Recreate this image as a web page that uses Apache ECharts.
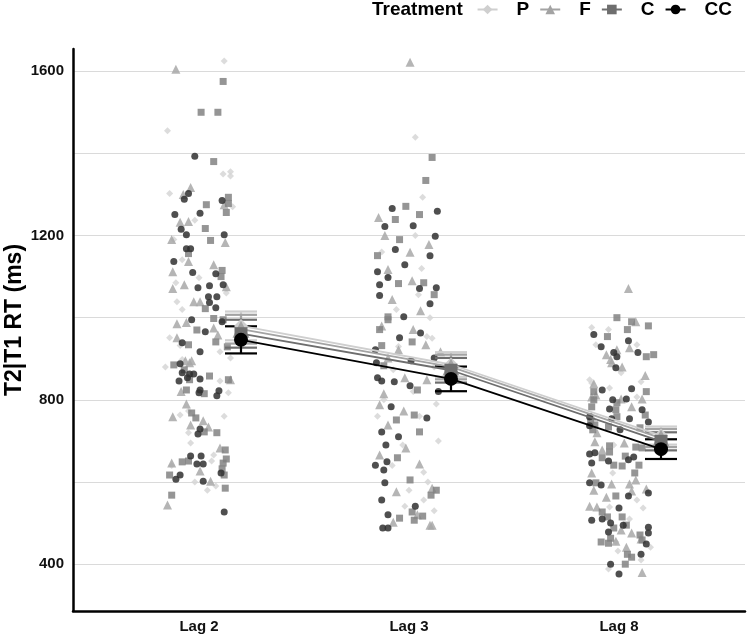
<!DOCTYPE html>
<html lang="en">
  <head>
    <meta charset="UTF-8" />
    <title>T2|T1 RT</title>
    <script src="https://cdn.jsdelivr.net/npm/echarts@6.0.0/dist/echarts.min.js"></script>
  </head>
  <body style="margin:0">
    <div id="chart" style="width: 747px; height: 636px"></div>

    <script type="text/javascript">
      const lags = ["Lag 2", "Lag 3", "Lag 8"];
      const treatments = ["P", "F", "C", "CC"];
      const yTicks = [400, 800, 1200, 1600];

      // raw trials: [jitter, RT ms]
      const p2 = [[0.12,1625],[-0.15,1455],[0.115,1350],[0.15,1355],[0.15,1345],[-0.14,1302],[-0.02,1237],[-0.08,1141],[0.0,1097],[-0.11,1085],[-0.105,1039],[-0.08,1020],[-0.14,951],[-0.09,932],[0.1,917],[0.15,902],[-0.08,898],[0.1,846],[0.14,817],[-0.05,773],[-0.09,763],[-0.05,720],[-0.04,695],[0.07,666],[0.06,651],[0.04,580],[0.08,590],[0.16,1270],[-0.12,1190],[0.13,1060],[-0.16,880],[0.12,760],[-0.13,640],[-0.02,600]];
      const f2 = [[-0.11,1605],[-0.04,1317],[-0.075,1300],[0.12,1275],[-0.05,1234],[-0.09,1232],[-0.13,1190],[0.125,1183],[-0.05,1137],[0.07,1129],[-0.125,1112],[0.13,1075],[-0.07,1080],[-0.125,1071],[-0.025,1039],[0.005,1039],[-0.105,985],[-0.06,988],[0.07,975],[0.09,958],[-0.105,951],[-0.065,895],[-0.035,895],[-0.045,890],[0.15,849],[-0.085,820],[-0.06,790],[-0.125,759],[-0.04,739],[0.02,749],[0.045,734],[0.1,683],[-0.13,646],[0.005,627],[0.055,602],[-0.15,544]];
      const c2 = [[0.115,1575],[0.01,1500],[0.09,1500],[0.07,1380],[0.14,1293],[0.14,1278],[0.035,1275],[0.13,1256],[0.03,1217],[0.055,1188],[-0.05,1156],[0.11,1115],[0.105,1100],[0.03,1022],[0.07,998],[0.115,995],[-0.01,970],[0.08,941],[-0.05,934],[0.135,929],[-0.12,885],[-0.07,873],[-0.045,849],[0.05,858],[0.14,849],[-0.06,824],[0.025,815],[-0.035,768],[-0.015,756],[0.025,722],[0.085,720],[0.125,678],[-0.05,651],[-0.08,649],[0.115,646],[0.13,656],[0.11,632],[0.12,617],[-0.14,617],[0.125,585],[-0.13,568]];
      const cc2 = [[-0.02,1393],[-0.05,1302],[-0.07,1288],[0.11,1285],[-0.115,1251],[0.005,1254],[-0.085,1215],[-0.06,1202],[0.12,1202],[-0.06,1168],[-0.04,1168],[-0.12,1137],[-0.03,1110],[0.08,1107],[-0.005,1073],[0.05,1078],[0.115,1080],[0.045,1051],[0.085,1051],[0.05,1037],[0.08,1024],[-0.035,995],[0.11,990],[0.03,966],[-0.08,939],[0.005,917],[-0.09,888],[-0.08,866],[-0.045,863],[-0.055,854],[-0.025,863],[0.005,851],[0.005,824],[-0.095,846],[0.0,817],[0.095,822],[0.085,810],[0.005,729],[-0.005,717],[-0.04,663],[0.01,663],[-0.01,644],[0.02,644],[-0.09,617],[-0.11,607],[0.02,602],[0.105,622],[0.12,527]];

      const p3 = [[0.03,1439],[0.065,1293],[0.045,1056],[0.085,954],[-0.075,873],[0.07,624],[0.07,556],[-0.02,541],[0.03,1200],[-0.1,1100],[0.1,1000],[-0.05,930],[0.12,880],[-0.12,800],[0.05,760],[0.14,700],[-0.08,640],[0.09,600],[-0.13,1160],[0.13,790],[-0.03,690],[0.02,820],[0.06,1120],[-0.06,1020],[0.11,950],[-0.15,760],[0.0,580],[0.12,530]];
      const f3 = [[0.005,1622],[-0.145,1244],[-0.115,1200],[0.095,1178],[0.005,1159],[-0.1,1117],[0.015,1090],[-0.08,1044],[0.055,1017],[-0.13,980],[0.02,971],[-0.05,922],[0.08,934],[0.15,917],[-0.1,902],[-0.02,854],[-0.12,815],[0.085,849],[-0.14,788],[-0.025,773],[-0.1,739],[-0.015,683],[-0.14,666],[0.05,644],[-0.06,576],[0.11,585],[-0.075,502],[0.1,495],[0.04,520],[0.11,495]];
      const c3 = [[0.11,1390],[0.08,1334],[-0.015,1271],[0.05,1251],[-0.065,1239],[-0.045,1190],[-0.15,1151],[-0.05,1083],[0.07,1085],[0.12,1056],[-0.1,1002],[-0.1,995],[-0.14,971],[0.015,941],[-0.13,932],[-0.12,883],[0.04,824],[0.025,763],[-0.06,751],[0.05,722],[-0.055,659],[0.005,605],[0.105,568],[0.13,580],[-0.045,512],[0.015,527],[0.065,517],[0.025,507]];
      const cc3 = [[-0.08,1266],[-0.115,1222],[0.02,1224],[0.135,1259],[0.125,1198],[0.1,1151],[-0.065,1166],[-0.15,1112],[-0.02,1129],[-0.14,1080],[-0.1,1098],[0.05,1071],[0.13,1073],[0.1,1034],[-0.14,1054],[-0.025,1002],[0.055,963],[-0.045,951],[-0.16,922],[-0.155,890],[0.01,895],[0.12,902],[-0.15,854],[-0.13,846],[-0.07,844],[0.005,834],[0.14,820],[-0.085,783],[0.085,756],[-0.13,722],[-0.05,710],[-0.11,690],[-0.105,649],[-0.16,641],[-0.12,629],[-0.115,598],[-0.13,556],[0.03,541],[-0.1,520],[-0.125,488],[-0.1,488]];

      const p8 = [[-0.13,976],[-0.05,971],[-0.11,934],[0.085,934],[0.01,866],[-0.14,849],[-0.13,841],[0.105,844],[-0.045,829],[0.085,807],[-0.025,690],[-0.03,622],[0.085,556],[-0.045,539],[0.115,537],[0.05,510],[-0.015,454],[0.15,441],[-0.005,432],[0.105,410],[-0.05,388]];
      const f8 = [[0.045,1071],[0.08,990],[0.05,927],[-0.01,922],[-0.06,910],[-0.04,898],[-0.035,890],[0.015,880],[0.125,859],[-0.12,839],[-0.11,812],[-0.13,807],[0.01,802],[0.11,802],[0.06,783],[-0.105,720],[-0.115,698],[0.025,695],[-0.08,678],[-0.13,622],[0.08,605],[-0.035,595],[0.05,595],[-0.12,580],[0.06,578],[0.13,583],[-0.06,563],[-0.14,541],[-0.105,539],[0.01,483],[0.06,476],[0.105,461],[0.035,441],[-0.015,456],[0.11,380],[-0.13,760]];
      const c8 = [[-0.01,1000],[0.06,990],[0.04,971],[-0.055,954],[0.13,905],[0.13,820],[-0.12,820],[-0.12,800],[-0.01,793],[-0.13,783],[-0.015,776],[-0.01,759],[-0.135,746],[0.125,763],[-0.115,739],[-0.125,727],[-0.05,734],[0.1,732],[-0.045,688],[-0.045,673],[0.08,685],[0.11,683],[0.03,663],[-0.08,659],[-0.025,641],[0.015,639],[0.095,641],[0.075,622],[-0.11,598],[-0.015,566],[-0.08,527],[-0.055,515],[0.015,515],[-0.025,488],[0.035,495],[0.1,471],[-0.085,454],[-0.05,451],[-0.04,463],[0.11,459],[0.04,424],[0.06,417],[0.03,400],[0.14,980],[0.165,910]];
      const cc8 = [[-0.12,959],[0.045,944],[-0.085,929],[-0.025,915],[0.09,915],[-0.01,905],[-0.015,878],[-0.08,824],[0.06,827],[-0.03,800],[0.035,802],[-0.045,778],[0.11,776],[-0.14,759],[-0.035,754],[0.05,754],[0.14,746],[-0.14,737],[0.005,727],[-0.14,668],[-0.115,671],[0.045,654],[0.07,661],[-0.05,651],[-0.13,646],[-0.14,598],[-0.085,593],[0.045,566],[0.14,573],[0.0,537],[-0.13,507],[-0.08,510],[-0.04,500],[0.02,495],[-0.05,478],[0.14,490],[0.14,476],[0.13,449],[0.105,424],[-0.04,400],[0.0,376]];

      // condition means and standard errors (Lag 2, Lag 3, Lag 8)
      const pMean = [980, 886, 713];
      const fMean = [972, 880, 707];
      const cMean = [961, 872, 699];
      const ccMean = [946, 851, 680];
      const pSe = [35, 30, 22];
      const fSe = [35, 30, 22];
      const cSe = [34, 30, 22];
      const ccSe = [33, 30, 24];

      const raw = { P: [p2, p3, p8], F: [f2, f3, f8], C: [c2, c3, c8], CC: [cc2, cc3, cc8] };
      const means = { P: pMean, F: fMean, C: cMean, CC: ccMean };
      const ses = { P: pSe, F: fSe, C: cSe, CC: ccSe };
      const symbols = { P: "diamond", F: "triangle", C: "rect", CC: "circle" };
      const lineColors = { P: "#cfcfcf", F: "#a3a3a3", C: "#6e6e6e", CC: "#000000" };
      const pointColors = { P: "#d6d6d6", F: "#a8a8a8", C: "#828282", CC: "#303030" };
      const pointSizes = { P: 7, F: 9, C: 7, CC: 7 };
      const meanSizes = { P: 14, F: 17, C: 13, CC: 14 };
      const dodge = 0.2;
      const font = "Liberation Sans, Arial, sans-serif";

      let chart = echarts.init(document.getElementById("chart"));

      const series = [];
      treatments.forEach((t) => {
        const pts = [];
        raw[t].forEach((lagPts, i) => {
          lagPts.forEach((d) => pts.push([i + 1 + d[0], d[1]]));
        });
        series.push({
          name: t + " trials",
          type: "scatter",
          data: pts,
          symbol: symbols[t],
          symbolSize: pointSizes[t],
          itemStyle: { color: pointColors[t], opacity: 0.85 },
          z: 2,
          silent: true,
        });
      });

      treatments.forEach((t, k) => {
        series.push({
          name: t + " se",
          type: "custom",
          data: means[t].map((m, i) => [i + 1 + dodge, m - ses[t][i], m + ses[t][i]]),
          encode: { x: 0, y: [1, 2] },
          z: 3 + k,
          silent: true,
          renderItem: (params, api) => {
            const x = api.value(0);
            const lo = api.coord([x, api.value(1)]);
            const hi = api.coord([x, api.value(2)]);
            const w = 16;
            const style = { stroke: lineColors[t], lineWidth: 2.2 };
            return {
              type: "group",
              children: [
                { type: "line", shape: { x1: lo[0], y1: lo[1], x2: hi[0], y2: hi[1] }, style },
                { type: "line", shape: { x1: lo[0] - w, y1: lo[1], x2: lo[0] + w, y2: lo[1] }, style },
                { type: "line", shape: { x1: hi[0] - w, y1: hi[1], x2: hi[0] + w, y2: hi[1] }, style },
              ],
            };
          },
        });
      });

      treatments.forEach((t, k) => {
        series.push({
          name: t,
          type: "line",
          data: means[t].map((m, i) => [i + 1 + dodge, m]),
          symbol: symbols[t],
          symbolSize: meanSizes[t],
          showSymbol: true,
          itemStyle: { color: lineColors[t] },
          lineStyle: { color: lineColors[t], width: 1.8 },
          z: 10 + k,
          silent: true,
        });
      });

      const option = {
        animation: false,
        title: {
          text: "Treatment",
          left: 372,
          top: 0,
          padding: 0,
          textStyle: { fontFamily: font, fontSize: 19, fontWeight: "bold", color: "#000" },
        },
        legend: {
          data: treatments,
          right: 10,
          top: -5,
          itemWidth: 20,
          itemHeight: 12,
          itemGap: 10,
          textStyle: { fontFamily: font, fontSize: 19, fontWeight: "bold", color: "#000", padding: [0, 0, 0, 14] },
        },
        grid: { left: 73, right: 2, top: 49, bottom: 25, containLabel: false, outerBoundsMode: "none" },
        xAxis: {
          type: "value",
          min: 0.4,
          max: 3.6,
          axisLine: { lineStyle: { color: "#000", width: 2.5 } },
          axisTick: { show: false, customValues: [1, 2, 3] },
          splitLine: { show: false },
          axisLabel: {
            customValues: [1, 2, 3],
            formatter: (v) => lags[Math.round(v) - 1],
            fontFamily: font,
            fontSize: 15,
            fontWeight: "bold",
            color: "#111",
            margin: 8,
          },
        },
        yAxis: {
          type: "value",
          min: 286,
          max: 1654,
          name: "T2|T1 RT (ms)",
          nameLocation: "middle",
          nameGap: 47,
          nameMoveOverlap: false,
          nameTextStyle: { fontFamily: font, fontSize: 23, fontWeight: "bold", color: "#000", padding: [0, 0, 0, 20] },
          axisLine: { show: true, lineStyle: { color: "#000", width: 2.5 } },
          axisTick: { show: false, customValues: [400, 600, 800, 1000, 1200, 1400, 1600] },
          splitLine: { show: true, lineStyle: { color: "#dadada", width: 1.2 } },
          axisLabel: {
            customValues: yTicks,
            formatter: (v) => String(v),
            fontFamily: font,
            fontSize: 15,
            fontWeight: "bold",
            color: "#111",
            margin: 9,
          },
        },
        series: series,
      };

      chart.setOption(option);
    </script>
  </body>
</html>
